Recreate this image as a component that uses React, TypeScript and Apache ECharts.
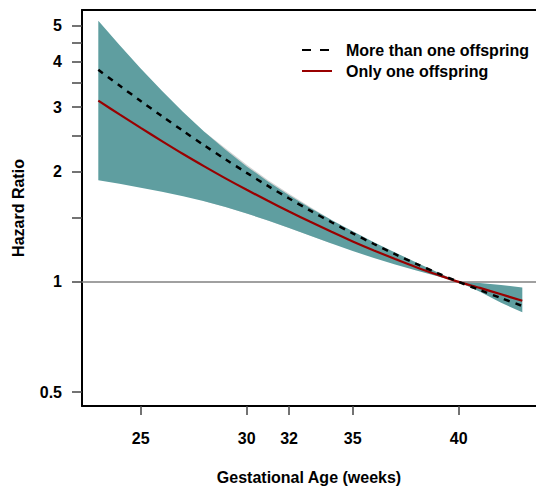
import React, { useEffect, useRef } from "react";
import * as echarts from "echarts";

// Gestational age (weeks)
const weeks = [23, 24, 25, 26, 27, 28, 29, 30, 31, 32, 33, 34, 35, 36, 37, 38, 39, 40, 41, 42, 43];
// Hazard ratio, more than one offspring (dashed)
const moreThanOne = [3.793, 3.435, 3.117, 2.835, 2.583, 2.358, 2.16, 1.984, 1.828, 1.689, 1.565, 1.455, 1.357, 1.269, 1.19, 1.12, 1.057, 1.0, 0.95, 0.903, 0.86];
// Hazard ratio, only one offspring (solid red)
const onlyOne = [3.124, 2.866, 2.633, 2.423, 2.234, 2.067, 1.917, 1.784, 1.665, 1.557, 1.459, 1.37, 1.29, 1.219, 1.155, 1.097, 1.046, 1.0, 0.963, 0.925, 0.888];
// Confidence band
const ciUpper = [5.16, 4.433, 3.827, 3.323, 2.91, 2.57, 2.293, 2.067, 1.88, 1.723, 1.59, 1.476, 1.374, 1.284, 1.203, 1.13, 1.063, 1.0, 0.993, 0.98, 0.966];
const ciLower = [1.893, 1.852, 1.808, 1.761, 1.713, 1.659, 1.6, 1.537, 1.471, 1.404, 1.336, 1.273, 1.214, 1.162, 1.115, 1.074, 1.036, 1.0, 0.94, 0.877, 0.826];
// Faint grey band edge
const fringeWeeks = [28, 29, 30, 31, 32, 33, 34];
const fringeUpper = [2.57, 2.315, 2.087, 1.898, 1.739, 1.602, 1.476];
const fringeLower = [1.659, 1.6, 1.537, 1.471, 1.404, 1.336, 1.273];

const xTicks = [25, 30, 32, 35, 40];
const yLabelTicks = [0.5, 1, 2, 3, 4, 5];
const yMinorTicks = [0.5, 1, 1.5, 2, 2.5, 3, 3.5, 4, 4.5, 5];

const FONT = "'Liberation Sans', Arial, sans-serif";

function bandSeries(xs: number[], lo: number[], hi: number[], color: string, z: number) {
  return {
    type: "custom",
    silent: true,
    clip: true,
    z,
    data: xs.map((w, i) => [w, Math.log(lo[i]), Math.log(hi[i])]),
    encode: { x: 0, y: [1, 2] },
    renderItem: (params: any, api: any) => {
      if (params.dataIndex !== 0) return null;
      const pts: number[][] = [];
      for (let i = 0; i < xs.length; i++) pts.push(api.coord([xs[i], Math.log(hi[i])]));
      for (let i = xs.length - 1; i >= 0; i--) pts.push(api.coord([xs[i], Math.log(lo[i])]));
      return { type: "polygon", shape: { points: pts, smooth: 0 }, style: { fill: color, stroke: null } };
    },
  };
}

export default function App() {
  const ref = useRef<HTMLDivElement>(null);
  useEffect(() => {
    if (!ref.current) return;
    const chart = echarts.init(ref.current, null, { renderer: "svg" });
    const textBase = { fontFamily: FONT, fontSize: 16, fontWeight: "bold", color: "#000" };
    chart.setOption({
      animation: false,
      backgroundColor: "#fff",
      grid: { left: 82, right: 0, top: 10, bottom: 79, containLabel: false },
      xAxis: [
        {
          type: "value",
          min: 22.231,
          max: 43.646,
          splitLine: { show: false },
          axisLine: { show: true, onZero: false, lineStyle: { color: "#000", width: 2 } },
          axisTick: { show: true, customValues: xTicks, length: 9, lineStyle: { color: "#444", width: 1.5 } },
          axisLabel: { customValues: xTicks, margin: 24, ...textBase },
          name: "Gestational Age (weeks)",
          nameLocation: "middle",
          nameGap: 63,
          nameTextStyle: { ...textBase },
        },
        {
          type: "value",
          position: "top",
          min: 22.231,
          max: 43.646,
          splitLine: { show: false },
          axisLine: { show: true, onZero: false, lineStyle: { color: "#000", width: 2 } },
          axisTick: { show: false },
          axisLabel: { show: false },
        },
      ],
      yAxis: {
        type: "value",
        min: -0.78,
        max: 1.709,
        splitLine: { show: false },
        axisLine: { show: true, onZero: false, lineStyle: { color: "#000", width: 2 } },
        axisTick: {
          show: true,
          customValues: yMinorTicks.map((v) => Math.log(v)),
          length: 10,
          lineStyle: { color: "#444", width: 1.5 },
        },
        axisLabel: {
          customValues: yLabelTicks.map((v) => Math.log(v)),
          margin: 20,
          formatter: (v: number) => String(Number(Math.exp(v).toFixed(1))),
          ...textBase,
        },
        name: "Hazard Ratio",
        nameLocation: "middle",
        nameGap: 56,
        nameRotate: 90,
        nameTextStyle: { ...textBase },
      },
      series: [
        bandSeries(fringeWeeks, fringeLower, fringeUpper, "#d4d4d4", 1),
        bandSeries(weeks, ciLower, ciUpper, "#5F9EA0", 2),
        {
          type: "line",
          name: "Only one offspring",
          data: weeks.map((w, i) => [w, Math.log(onlyOne[i])]),
          showSymbol: false,
          smooth: 0.3,
          lineStyle: { color: "#990000", width: 2.2 },
          z: 4,
          markLine: {
            silent: true,
            symbol: ["none", "none"],
            label: { show: false },
            lineStyle: { color: "#808080", width: 1.6, type: "solid" },
            data: [{ yAxis: 0 }],
            z: 3,
          },
        },
        {
          type: "line",
          name: "More than one offspring",
          data: weeks.map((w, i) => [w, Math.log(moreThanOne[i])]),
          showSymbol: false,
          smooth: 0.3,
          lineStyle: { color: "#000", width: 2.5, type: [6, 6] },
          z: 5,
        },
      ],
      graphic: [
        {
          type: "line",
          shape: { x1: 302, y1: 50, x2: 332, y2: 50 },
          style: { stroke: "#000", lineWidth: 2, lineDash: [9, 9] },
        },
        {
          type: "line",
          shape: { x1: 302, y1: 71, x2: 332, y2: 71 },
          style: { stroke: "#990000", lineWidth: 2 },
        },
        {
          type: "text",
          x: 346,
          y: 50,
          style: { text: "More than one offspring", font: `bold 16px ${FONT}`, fill: "#000", verticalAlign: "middle" },
        },
        {
          type: "text",
          x: 346,
          y: 71,
          style: { text: "Only one offspring", font: `bold 16px ${FONT}`, fill: "#000", verticalAlign: "middle" },
        },
      ],
    });
    return () => chart.dispose();
  }, []);
  return <div ref={ref} style={{ width: 536, height: 490, position: "absolute", left: 0, top: 0 }} />;
}
